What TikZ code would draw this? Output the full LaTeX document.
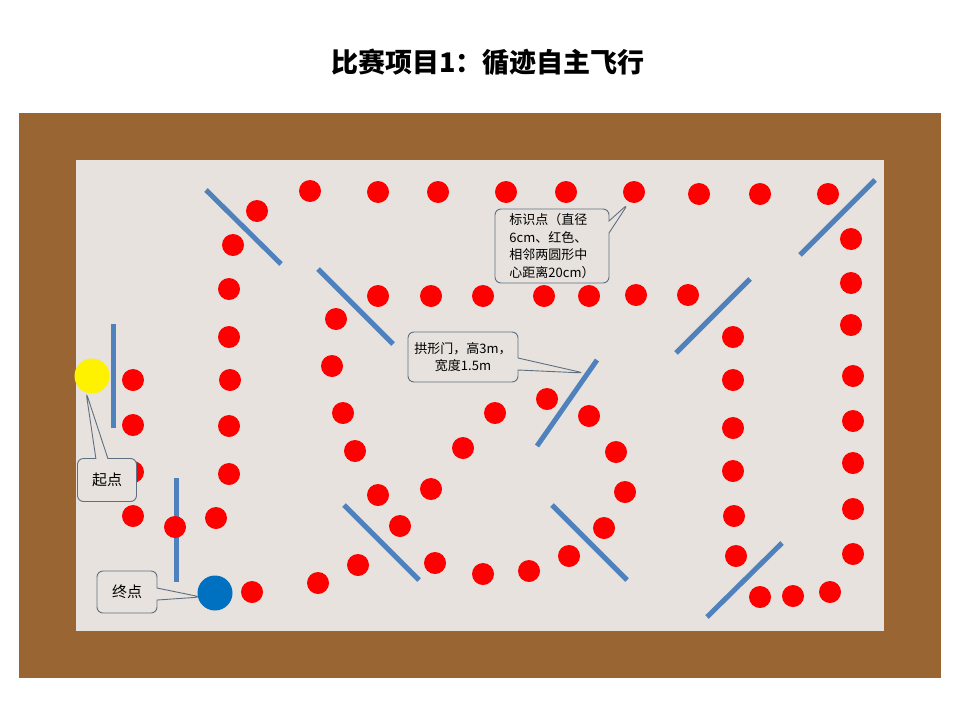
\documentclass[tikz,border=0pt]{standalone}
\usepackage{fontspec}
\setmainfont{Noto Sans CJK SC}
\usetikzlibrary{shapes.callouts}
\definecolor{brownbg}{HTML}{996633}
\definecolor{field}{HTML}{E7E2DD}
\definecolor{bar}{HTML}{4F81BD}
\definecolor{dotred}{HTML}{FF0000}
\definecolor{endblue}{HTML}{0070C0}
\definecolor{callbd}{HTML}{5F6F82}
\tikzset{
  dot/.style={circle,fill=dotred,draw=none,minimum size=22pt,inner sep=0pt},
  bigdot/.style={circle,draw=none,minimum size=35pt,inner sep=0pt},
  gate/.style={draw=bar,line width=5pt},
  note/.style={rectangle callout,rounded corners=6pt,draw=callbd,line width=0.9pt,fill=field,
    font=\fontsize{13}{17.5}\selectfont,inner sep=2pt,callout pointer width=12pt},
}
\begin{document}
\begin{tikzpicture}[x=1pt,y=-1pt]
\useasboundingbox (0,0) rectangle (960,720);
\fill[white] (0,0) rectangle (960,720);
\fill[brownbg] (19,113) rectangle (941,678);
\fill[field] (76,160) rectangle (884,631);
\node[font=\fontsize{27}{32}\selectfont\bfseries] (title) at (488,62) {比赛项目1：循迹自主飞行};
% gates
\draw[gate] (206,190) -- (281,264);
\draw[gate] (318,269) -- (393,344);
\draw[gate] (113,324) -- (113,428);
\draw[gate] (176,478) -- (176,582);
\draw[gate] (597,360) -- (537,446);
\draw[gate] (750,279) -- (676,353);
\draw[gate] (875,180) -- (800,255);
\draw[gate] (344,505) -- (419,580);
\draw[gate] (552,505) -- (627,580);
\draw[gate] (782,543) -- (707,617);
% dots
\foreach \x/\y [count=\i] in {310/191,378/192,438/192,506/192,566/192,634/192,699/194,760/194,828/194,
  257/211,233/245,
  851/239,851/283,851/325,853/376,853/421,853/463,853/509,853/554,
  760/597,793/596,830/592,
  733/337,733/380,733/428,733/471,734/516,736/556,
  378/296,431/296,483/296,544/296,589/296,636/295,688/295,
  229/289,229/337,230/380,229/426,229/474,
  216/518,175/527,133/516,133/472,133/425,133/380,
  252/592,318/583,358/565,435/563,483/574,529/571,569/556,604/528,625/492,616/452,589/416,547/399,
  495/413,463/448,431/489,400/526,378/495,355/451,343/413,332/366,336/319}
  \node[dot] (d\i) at (\x,\y) {};
\node[bigdot,fill=yellow] (start) at (92,376) {};
\node[bigdot,fill=endblue] (finish) at (215,593) {};
% callouts
\coordinate (t1) at (628,204);
\coordinate (t2) at (584,373);
\coordinate (t3) at (86,392);
\coordinate (t4) at (201,597);
\node[note,minimum width=114pt,minimum height=74pt,align=left,callout absolute pointer={(t1)}] (n1) at (552,246)
  {标识点（直径\\6cm、红色、\\相邻两圆形中\\心距离20cm）};
\node[note,minimum width=110pt,minimum height=50pt,align=center,callout absolute pointer={(t2)}] (n2) at (463,357)
  {拱形门，高3m，\\宽度1.5m};
\node[note,font=\fontsize{15}{18}\selectfont,minimum width=59pt,minimum height=43pt,callout absolute pointer={(t3)}] (n3) at (107,480) {起点};
\node[note,font=\fontsize{15}{18}\selectfont,minimum width=60pt,minimum height=42pt,callout absolute pointer={(t4)}] (n4) at (127,592) {终点};
\end{tikzpicture}
\end{document}
